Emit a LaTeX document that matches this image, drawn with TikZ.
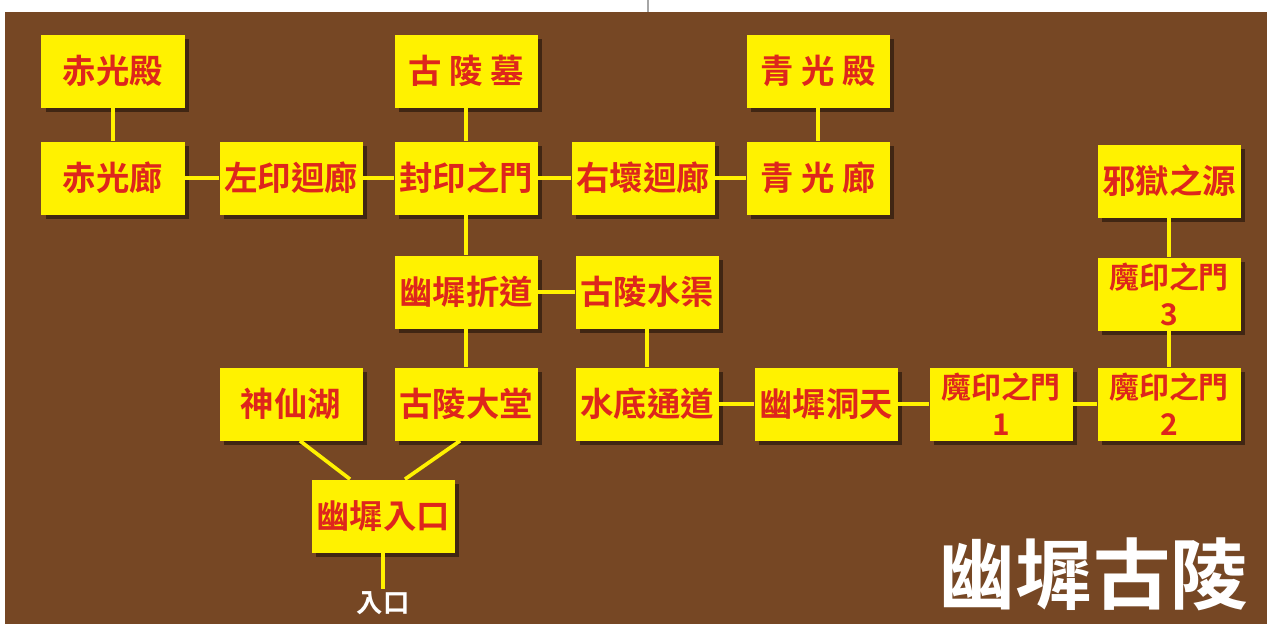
\documentclass[tikz,border=0pt]{standalone}
\usepackage{fontspec}
\newfontfamily\cjk{Noto Sans CJK TC}[BoldFont={Noto Sans CJK TC Bold}]
\usetikzlibrary{positioning, calc, shadows}
\definecolor{Tierra}{RGB}{118,71,36}
\definecolor{Sello}{RGB}{255,242,0}
\definecolor{Rojo}{RGB}{222,38,28}

\begin{document}
\begin{tikzpicture}[x=0.2mm, y=-0.2mm,
  sala/.style ={rectangle, draw=none, fill=Sello,
                minimum width=28.6mm, minimum height=14.6mm, inner sep=0pt,
                align=center, text=Rojo,
                font=\cjk\bfseries\fontsize{19}{17}\selectfont,
                drop shadow={shadow xshift=0.9mm, shadow yshift=-0.9mm,
                             fill=black, opacity=0.45}},
  puerta/.style={sala, font=\cjk\bfseries\fontsize{17}{21}\selectfont},
  via/.style  ={draw=Sello, line width=2.1pt},
]

%% ═══════════════ Fondo ═══════════════
\useasboundingbox (0,0) rectangle (1267,624);
\fill[white] (0,0) rectangle (1267,624);
\fill[Tierra] (5,12) rectangle (1267,624);
\draw[gray!70, line width=0.6pt] (648,0) -- (648,12);

%% ═══════════════ Fila superior ═══════════════
\node[sala] (CGD) at (113,71)  {赤光殿};
\node[sala] (GLM) at (466,71)  {古\ 陵\ 墓};
\node[sala] (QGD) at (818,71)  {青\ 光\ 殿};

%% ═══════════════ Corredor del sello ═══════════════
\node[sala] (CGL) at (113,178) {赤光廊};
\node[sala] (ZYL) at (291,178) {左印迴廊};
\node[sala] (FYM) at (466,178) {封印之門};
\node[sala] (YHL) at (643,178) {右壞迴廊};
\node[sala] (QGL) at (818,178) {青\ 光\ 廊};
\node[sala] (XYY) at (1169,181) {邪獄之源};

%% ═══════════════ Tercera fila ═══════════════
\node[sala]   (YZD) at (466,292) {幽墀折道};
\node[sala]   (GSQ) at (647,292) {古陵水渠};
\node[puerta] (MY3) at (1169,294) {魔印之門\\3};

%% ═══════════════ Cuarta fila ═══════════════
\node[sala]   (SXH) at (291,404) {神仙湖};
\node[sala]   (GDT) at (466,404) {古陵大堂};
\node[sala]   (SDT) at (647,404) {水底通道};
\node[sala]   (YDT) at (826,404) {幽墀洞天};
\node[puerta] (MY1) at (1001,404) {魔印之門\\1};
\node[puerta] (MY2) at (1169,404) {魔印之門\\2};

%% ═══════════════ Entrada ═══════════════
\node[sala] (YRK) at (383,516) {幽墀入口};
\node[text=white, inner sep=1pt, font=\cjk\bfseries\fontsize{15}{16}\selectfont]
  (RK) at (383,603) {入口};

%% ═══ Conexiones ═══
\draw[via] (CGD) -- (CGL);
\draw[via] (CGL) -- (ZYL);
\draw[via] (ZYL) -- (FYM);
\draw[via] (FYM) -- (YHL);
\draw[via] (YHL) -- (QGL);
\draw[via] (GLM) -- (FYM);
\draw[via] (QGD) -- (QGL);
\draw[via] (FYM) -- (YZD);
\draw[via] (YZD) -- (GSQ);
\draw[via] (YZD) -- (GDT);
\draw[via] (GSQ) -- (SDT);
\draw[via] (SDT) -- (YDT);
\draw[via] (YDT) -- (MY1);
\draw[via] (MY1) -- (MY2);
\draw[via] (MY2) -- (MY3);
\draw[via] (MY3) -- (XYY);
\draw[via] ([xshift=1.8mm]SXH.south) -- ([xshift=-6.6mm]YRK.north);
\draw[via] ([xshift=-1.2mm]GDT.south) -- ([xshift=4.4mm]YRK.north);
\draw[via] (YRK.south) -- (RK.north);

%% Titulo
\node[text=white, font=\cjk\bfseries\fontsize{44}{48}\selectfont]
  (titulo) at (1093,574) {幽墀古陵};

\end{tikzpicture}
\end{document}
